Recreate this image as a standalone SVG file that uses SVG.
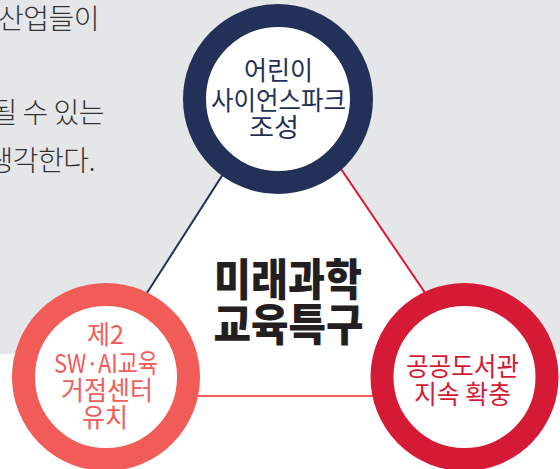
<svg xmlns="http://www.w3.org/2000/svg" width="560" height="469" viewBox="0 0 560 469">
<style>
.kr{font-family:"Noto Sans CJK KR","Noto Sans KR",sans-serif}
.body{font-size:28px;fill:#333333;font-weight:300;letter-spacing:-0.5px}
.node{font-size:26px;font-weight:400;text-anchor:middle}
.ring{fill:#ffffff;stroke-width:23}
.title{font-size:44px;font-weight:900;fill:#231f20;text-anchor:middle}
</style>
<rect x="0" y="0" width="560" height="354" fill="#e5e6e8"/>
<polygon points="282,82 81,396 495,396" fill="#ffffff"/>
<g id="bg-text" class="kr body" text-anchor="end">
<text x="99" y="29">산업들이</text>
<text x="104" y="123">될 수 있는</text>
<text x="95" y="171">생각한다.</text>
</g>
<g id="connectors" fill="none" stroke-width="2">
<line x1="282" y1="82" x2="81" y2="396" stroke="#233057"/>
<line x1="282" y1="82" x2="495" y2="396" stroke="#d51a35"/>
<line x1="81" y1="396" x2="495" y2="396" stroke="#f25c58"/>
</g>
<g id="node-top">
<circle class="ring" cx="278" cy="99" r="83.5" stroke="#233057"/>
<g class="kr node" fill="#233057">
<text x="278.5" y="80" textLength="69" lengthAdjust="spacingAndGlyphs">어린이</text>
<text x="278.5" y="110" textLength="135" lengthAdjust="spacingAndGlyphs">사이언스파크</text>
<text x="274" y="137" textLength="50" lengthAdjust="spacingAndGlyphs">조성</text>
</g>
</g>
<g id="node-left">
<circle class="ring" cx="106" cy="377" r="82.5" stroke="#f25c58"/>
<g class="kr node" fill="#f25c58">
<text x="105.5" y="344" textLength="37" lengthAdjust="spacingAndGlyphs">제2</text>
<text x="106" y="373" textLength="104" lengthAdjust="spacingAndGlyphs">SW·AI교육</text>
<text x="107" y="400" textLength="92" lengthAdjust="spacingAndGlyphs">거점센터</text>
<text x="105" y="427" textLength="46" lengthAdjust="spacingAndGlyphs">유치</text>
</g>
</g>
<g id="node-right">
<circle class="ring" cx="464.5" cy="377" r="82.5" stroke="#d51a35"/>
<g class="kr node" fill="#d51a35">
<text x="462.5" y="376" textLength="113" lengthAdjust="spacingAndGlyphs">공공도서관</text>
<text x="462.5" y="404" textLength="97" lengthAdjust="spacingAndGlyphs">지속 확충</text>
</g>
</g>
<g id="center-label" class="kr title">
<text x="288" y="296" textLength="148" lengthAdjust="spacingAndGlyphs">미래과학</text>
<text x="288.5" y="341" textLength="150" lengthAdjust="spacingAndGlyphs">교육특구</text>
</g>
</svg>
